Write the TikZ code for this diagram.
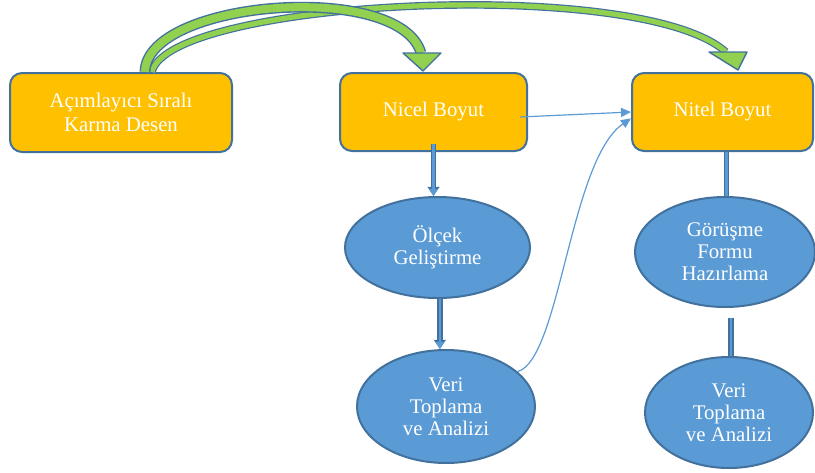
\documentclass[tikz,border=0pt]{standalone}
\usepackage{fontspec}
\setmainfont{Liberation Serif}
\usetikzlibrary{arrows.meta,shapes.geometric,positioning}

\definecolor{boxfill}{RGB}{255,192,0}
\definecolor{edgeblue}{RGB}{65,113,156}
\definecolor{ovalfill}{RGB}{91,155,213}
\definecolor{arrowgreen}{RGB}{146,208,80}

\begin{document}
\begin{tikzpicture}[x=0.5pt,y=-0.5pt]

\tikzset{box/.style={rectangle, rounded corners=6pt, draw=edgeblue, line width=1pt,
    fill=boxfill, text=white, align=center, inner sep=0pt,
    font=\fontsize{10.4}{12}\selectfont}}
\tikzset{oval/.style={ellipse, draw=edgeblue, line width=1pt, fill=ovalfill,
    text=white, align=center, inner sep=0pt, font=\fontsize{10.4}{11}\selectfont}}
\tikzset{blockline/.style={draw=ovalfill, line width=1.4pt,
    preaction={draw=edgeblue, line width=2.6pt}}}
\tikzset{blockarrow/.style={draw=ovalfill, line width=1.4pt, -{Triangle[width=4.2pt,length=3.6pt]},
    preaction={draw=edgeblue, line width=2.6pt, -{Triangle[width=5.8pt,length=4.6pt]}}}}
\tikzset{thinarrow/.style={draw=ovalfill, line width=0.6pt, -{Triangle[width=4.5pt,length=5pt]}}}
\tikzset{greenbig/.style={draw=arrowgreen, line width=4pt, preaction={draw=edgeblue, line width=5.4pt}}}
\tikzset{greensmall/.style={draw=arrowgreen, line width=2.6pt, preaction={draw=edgeblue, line width=3.8pt}}}
\tikzset{greenhead/.style={fill=arrowgreen, draw=edgeblue, line width=0.7pt, line join=round}}

\useasboundingbox (0,0) rectangle (815,472);

% top row
\node[box, minimum width=111pt, minimum height=39.5pt] (acim) at (121,112.5) {A\c{c}\i mlay\i c\i{} S\i ral\i\\Karma Desen};
\node[box, minimum width=93.5pt, minimum height=39pt] (nicel) at (433.5,112) {Nicel Boyut};
\node[box, minimum width=90.5pt, minimum height=39pt] (nitel) at (722.5,112) {Nitel Boyut};

% left column
\node[oval, minimum width=92.5pt, minimum height=50.5pt] (olcek) at (437.5,247.5) {\"Ol\c{c}ek\\Geli\c{s}tirme};
\node[oval, minimum width=89pt, minimum height=56.5pt] (veri1) at (446,406.5) {Veri\\Toplama\\ve Analizi};

% right column
\node[oval, minimum width=90pt, minimum height=55pt] (gorusme) at (725,252) {G\"or\"u\c{s}me\\Formu\\Haz\i rlama};
\node[oval, minimum width=84pt, minimum height=55.5pt] (veri2) at (729,412.5) {Veri\\Toplama\\ve Analizi};

% vertical connectors
\draw[blockarrow] ([yshift=4pt]nicel.south) -- (nicel.south |- olcek.north);
\draw[blockarrow] ([xshift=1.2pt]olcek.south) -- ([xshift=1.2pt]olcek.south |- veri1.north);
\draw[blockline] ([xshift=2pt]nitel.south) -- ([xshift=2pt]nitel.south |- gorusme.north);
\draw[blockline] ([xshift=3pt,yshift=-5pt]gorusme.south) -- ([xshift=3pt]gorusme.south |- veri2.north);

% thin connectors
\draw[thinarrow] ([shift={(-8,5)}]nicel.east) -- (nitel.west);
\draw[thinarrow] (veri1.26) .. controls (560,360) and (570,160) .. (nitel.184);

% green arrows
\coordinate (g1tip) at (423,71);
\coordinate (g2tip) at (738,70);
\draw[greensmall] ([xshift=15.5pt]acim.north) .. controls (168,0) and (640,-25) .. (726,52);
\filldraw[greenhead] (709,52) -- (g2tip) -- (747,52) -- cycle;
\draw[greenbig] ([xshift=12pt]acim.north) .. controls (146,0) and (400,-20) .. (421,53);
\filldraw[greenhead] (403,53) -- (g1tip) -- (441,53) -- cycle;

\end{tikzpicture}
\end{document}
